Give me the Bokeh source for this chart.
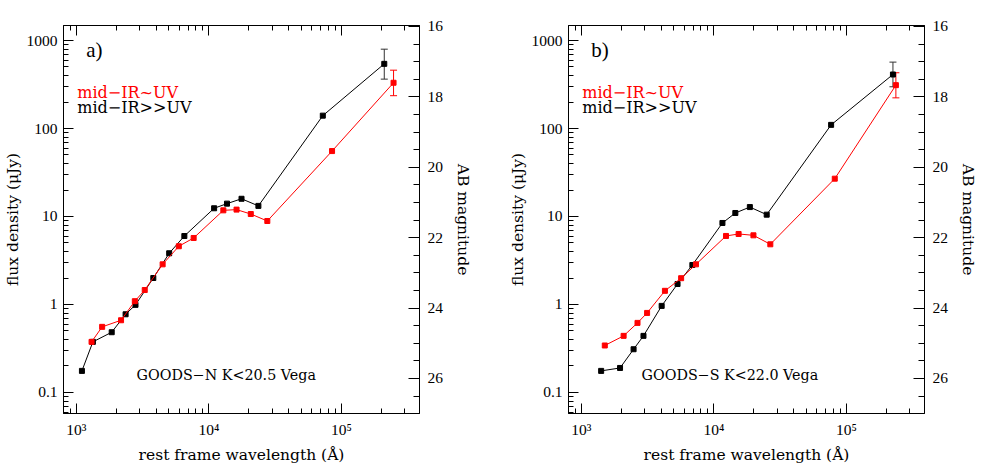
import math
from bokeh.plotting import figure
from bokeh.layouts import row
from bokeh.models import (Range1d, LinearAxis, LogAxis, FixedTicker, Whisker,
                          ColumnDataSource, Label, TeeHead, LinearScale,
                          CustomJSTickFormatter)
from bokeh.embed import file_html
from bokeh.resources import INLINE

# ---------------- data ----------------
# Panel a) GOODS-N
a_black_wave = [1102, 1333, 1849, 2354, 2795, 3810, 5020, 6535, 10960, 13710, 17650, 23660, 72470, 210900]
a_black_flux = [0.176, 0.376, 0.484, 0.774, 0.99, 2.0, 3.82, 6.0, 12.4, 14.0, 15.9, 13.2, 140, 543]
a_red_wave = [1303, 1566, 2175, 2763, 3283, 4480, 5935, 7680, 12870, 16190, 20730, 27630, 85100, 247800]
a_red_flux = [0.376, 0.557, 0.662, 1.09, 1.46, 2.86, 4.59, 5.70, 11.75, 11.97, 10.67, 8.89, 55.4, 331]
a_black_err_upper = [797]
a_black_err_lower = [364]
a_red_err_upper = [460]
a_red_err_lower = [236]

# Panel b) GOODS-S
b_black_wave = [1411, 1959, 2479, 2944, 4039, 5322, 6886, 11610, 14530, 18700, 25060, 76760, 224800]
b_black_flux = [0.176, 0.190, 0.310, 0.440, 0.964, 1.71, 2.81, 8.44, 10.96, 12.8, 10.49, 110, 411]
b_red_wave = [1503, 2085, 2654, 3136, 4274, 5665, 7330, 12360, 15380, 19900, 26690, 81800, 236600]
b_red_flux = [0.342, 0.440, 0.618, 0.802, 1.43, 1.99, 2.86, 6.01, 6.33, 6.11, 4.83, 26.9, 311]
b_black_err_upper = [568]
b_black_err_lower = [298]
b_red_err_upper = [430]
b_red_err_lower = [223]

x_major = [1e3, 1e4, 1e5]
y_major = [0.1, 1, 10, 100, 1000]
ab_major = [16, 18, 20, 22, 24, 26]

label_red = "mid−IR~UV"
label_black = "mid−IR>>UV"
titles = ["GOODS−N K<20.5 Vega", "GOODS−S K<22.0 Vega"]
tags = ["a)", "b)"]

X_RANGE = (800, 3.89e5)
Y_RANGE = (0.0577, 1481)
AB_ZP = 23.9

RED = "#ff0000"
BLACK = "#000000"
TICK_FONT = "Liberation Serif"
LABEL_FONT = "DejaVu Serif"

X_FMT = """
const sup = {"0":"⁰","1":"¹","2":"²","3":"³","4":"⁴","5":"⁵","6":"⁶","7":"⁷","8":"⁸","9":"⁹"};
const e = Math.round(Math.log10(tick));
return "10" + String(e).split("").map(c => sup[c]).join("");
"""
Y_FMT = """
if (tick >= 1) { return Math.round(tick).toString(); }
return parseFloat(tick.toPrecision(3)).toString();
"""


def minor_list(lo, hi, kmin, kmax):
    out = []
    for k in range(kmin, kmax + 1):
        for m in range(2, 10):
            v = m * 10 ** k
            if lo < v < hi:
                out.append(v)
    return out


def style_axis(ax, major_in=10, minor_in=5):
    ax.major_tick_in = major_in
    ax.major_tick_out = 0
    ax.minor_tick_in = minor_in
    ax.minor_tick_out = 0
    ax.axis_line_color = BLACK
    ax.major_tick_line_color = BLACK
    ax.minor_tick_line_color = BLACK
    ax.major_label_text_font = TICK_FONT
    ax.major_label_text_font_size = "15.5px"
    ax.major_label_text_color = BLACK
    ax.axis_label_text_font = LABEL_FONT
    ax.axis_label_text_font_size = "15.5px"
    ax.axis_label_text_font_style = "normal"
    ax.axis_label_text_color = BLACK


def make_panel(tag, title, bw, bf, rw, rf, beu, bel, reu, rel, mbl, mbr):
    p = figure(x_axis_type="log", y_axis_type="log",
               x_range=Range1d(*X_RANGE), y_range=Range1d(*Y_RANGE),
               frame_width=356, frame_height=388,
               min_border_left=mbl, min_border_right=mbr,
               min_border_top=25, min_border_bottom=0,
               output_backend="svg", toolbar_location=None)
    p.xgrid.visible = False
    p.ygrid.visible = False
    p.outline_line_color = BLACK
    p.outline_line_width = 1
    p.background_fill_color = "white"
    p.border_fill_color = "white"

    xa = p.below[0]
    xa.ticker = FixedTicker(ticks=x_major, minor_ticks=minor_list(*X_RANGE, 2, 5))
    xa.formatter = CustomJSTickFormatter(code=X_FMT)
    xa.axis_label = "rest frame wavelength (Å)"
    style_axis(xa)
    xa.major_label_standoff = 7
    xa.axis_label_standoff = 5

    ya = p.left[0]
    ya.ticker = FixedTicker(ticks=y_major, minor_ticks=minor_list(*Y_RANGE, -2, 3))
    ya.formatter = CustomJSTickFormatter(code=Y_FMT)
    ya.axis_label = "flux density (μJy)"
    style_axis(ya)
    ya.major_label_standoff = 6
    ya.axis_label_standoff = 2

    top = LogAxis(ticker=FixedTicker(ticks=x_major, minor_ticks=minor_list(*X_RANGE, 2, 5)),
                  formatter=CustomJSTickFormatter(code="return '';"))
    style_axis(top)
    top.major_label_text_font_size = "1px"
    top.major_label_standoff = 0
    p.add_layout(top, "above")

    ab_top = AB_ZP - 2.5 * math.log10(Y_RANGE[1])
    ab_bot = AB_ZP - 2.5 * math.log10(Y_RANGE[0])
    p.extra_y_ranges = {"ab": Range1d(ab_bot, ab_top)}
    p.extra_y_scales = {"ab": LinearScale()}
    ab_minor = [v / 2 for v in range(32, 54) if v % 4 != 0]
    ra = LinearAxis(y_range_name="ab",
                    ticker=FixedTicker(ticks=ab_major, minor_ticks=ab_minor),
                    axis_label="AB magnitude")
    style_axis(ra, major_in=11, minor_in=6)
    ra.major_label_standoff = 8
    ra.axis_label_standoff = 8
    p.add_layout(ra, "right")

    # series
    p.line(bw, bf, line_color=BLACK, line_width=1)
    p.scatter(bw, bf, marker="square", size=5, fill_color=BLACK, line_color=BLACK)
    p.line(rw, rf, line_color=RED, line_width=1)
    p.scatter(rw, rf, marker="square", size=5, fill_color=RED, line_color=RED)

    for w, u, l, c in ((bw[-1:], beu, bel, "#333333"), (rw[-1:], reu, rel, RED)):
        src = ColumnDataSource(dict(base=w, upper=u, lower=l))
        wk = Whisker(source=src, base="base", upper="upper", lower="lower",
                     dimension="height", line_color=c, line_width=1,
                     upper_head=TeeHead(size=7, line_color=c, line_width=1),
                     lower_head=TeeHead(size=7, line_color=c, line_width=1))
        p.add_layout(wk)

    p.add_layout(Label(x=1188, y=770, text=tag, text_font=TICK_FONT,
                       text_font_size="21px", text_baseline="middle",
                       text_align="left", text_color=BLACK))
    p.add_layout(Label(x=1017, y=256, text=label_red, text_font=LABEL_FONT,
                       text_font_size="16px", text_baseline="middle",
                       text_align="left", text_color=RED))
    p.add_layout(Label(x=1017, y=173, text=label_black, text_font=LABEL_FONT,
                       text_font_size="16px", text_baseline="middle",
                       text_align="left", text_color=BLACK))
    p.add_layout(Label(x=2850, y=0.160, text=title, text_font=LABEL_FONT,
                       text_font_size="14.3px", text_baseline="middle",
                       text_align="left", text_color=BLACK))
    return p


p1 = make_panel(tags[0], titles[0], a_black_wave, a_black_flux, a_red_wave, a_red_flux,
                a_black_err_upper, a_black_err_lower, a_red_err_upper, a_red_err_lower,
                mbl=0, mbr=73)
p2 = make_panel(tags[1], titles[1], b_black_wave, b_black_flux, b_red_wave, b_red_flux,
                b_black_err_upper, b_black_err_lower, b_red_err_upper, b_red_err_lower,
                mbl=76, mbr=0)

layout = row(p1, p2)
open("out.html", "w").write(file_html(layout, INLINE))
